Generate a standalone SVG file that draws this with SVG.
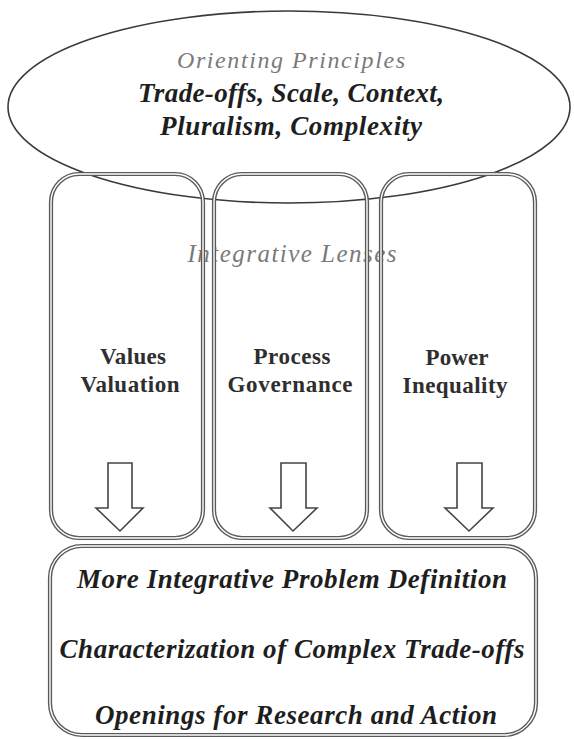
<svg xmlns="http://www.w3.org/2000/svg" width="574" height="739" viewBox="0 0 574 739">
<style>
  .bg { fill: #ffffff; }
  .ell { fill: none; stroke: #3a3a3a; stroke-width: 1.6; }
  .boxo { fill: none; stroke: #5a5a5a; stroke-width: 4.2; }
  .boxi { fill: none; stroke: #ffffff; stroke-width: 1.4; }
  .arrow { fill: #ffffff; stroke: #444444; stroke-width: 1.6; stroke-linejoin: miter; }
  .t { font-family: "Liberation Serif", "Times New Roman", serif; text-anchor: middle; }
  .gray { font-style: italic; fill: #7a7a7a; }
  .big { font-style: italic; font-weight: bold; fill: #1e1e1e; }
  .lens { font-weight: bold; fill: #2e2e2e; }
</style>
<rect class="bg" x="0" y="0" width="574" height="739"/>

<g id="orienting-principles">
  <ellipse class="ell" cx="289" cy="107" rx="281" ry="96"/>
  <text class="t gray" x="291" y="68" font-size="24" textLength="228" lengthAdjust="spacing">Orienting Principles</text>
  <text class="t big" x="291" y="102" font-size="27" textLength="306" lengthAdjust="spacing">Trade-offs, Scale, Context,</text>
  <text class="t big" x="291" y="135" font-size="27" textLength="262" lengthAdjust="spacing">Pluralism, Complexity</text>
</g>

<g id="integrative-lenses-label">
  <text class="t gray" x="292" y="262" font-size="25" textLength="209" lengthAdjust="spacing">Integrative Lenses</text>
</g>

<g id="lens-values">
  <rect class="boxo" x="51" y="174" width="152" height="364" rx="28"/>
  <rect class="boxi" x="51" y="174" width="152" height="364" rx="28"/>
  <text class="t lens" x="133" y="364" font-size="23" textLength="66" lengthAdjust="spacing">Values</text>
  <text class="t lens" x="130" y="392" font-size="23" textLength="99" lengthAdjust="spacing">Valuation</text>
</g>

<g id="lens-process">
  <rect class="boxo" x="214" y="174" width="153" height="364" rx="28"/>
  <rect class="boxi" x="214" y="174" width="153" height="364" rx="28"/>
  <text class="t lens" x="292" y="364" font-size="23" textLength="77" lengthAdjust="spacing">Process</text>
  <text class="t lens" x="290" y="392" font-size="23" textLength="125" lengthAdjust="spacing">Governance</text>
</g>

<g id="lens-power">
  <rect class="boxo" x="381" y="174" width="154" height="364" rx="28"/>
  <rect class="boxi" x="381" y="174" width="154" height="364" rx="28"/>
  <text class="t lens" x="457" y="365" font-size="23" textLength="63" lengthAdjust="spacing">Power</text>
  <text class="t lens" x="455" y="393" font-size="23" textLength="105" lengthAdjust="spacing">Inequality</text>
</g>

<g id="outcomes">
  <rect class="boxo" x="50" y="546" width="486" height="189" rx="32"/>
  <rect class="boxi" x="50" y="546" width="486" height="189" rx="32"/>
  <text class="t big" x="292" y="588" font-size="27" textLength="430" lengthAdjust="spacing">More Integrative Problem Definition</text>
  <text class="t big" x="292" y="658" font-size="27" textLength="465" lengthAdjust="spacing">Characterization of Complex Trade-offs</text>
  <text class="t big" x="296" y="724" font-size="27" textLength="402" lengthAdjust="spacing">Openings for Research and Action</text>
</g>

<g id="connectors">
  <path class="arrow" d="M108,463 H132 V508 H143 L120,531 L96,508 H108 Z"/>
  <path class="arrow" d="M281,463 H306 V508 H317 L293,531 L270,508 H281 Z"/>
  <path class="arrow" d="M457,463 H482 V508 H493 L469,531 L445,508 H457 Z"/>
</g>
</svg>
